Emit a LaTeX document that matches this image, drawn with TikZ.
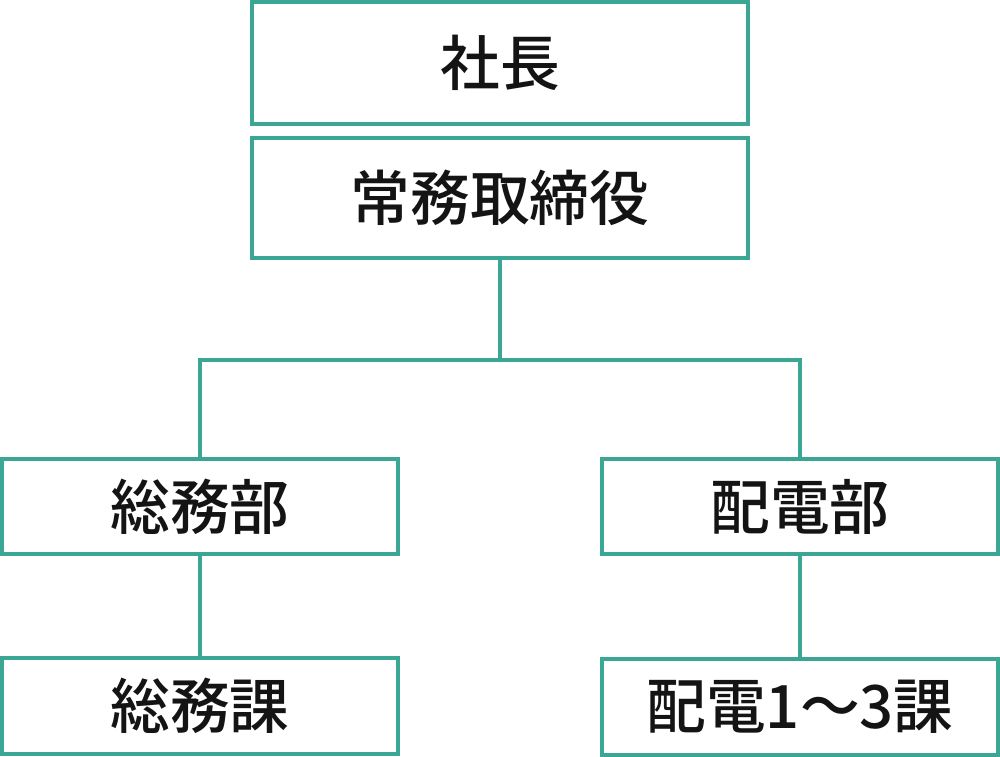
\documentclass[tikz,border=0pt]{standalone}
\usepackage{fontspec}
\newfontfamily\cjk{Noto Sans CJK JP Medium}
\usetikzlibrary{positioning}
\definecolor{orgline}{RGB}{59,166,148}

\begin{document}
\begin{tikzpicture}[line width=2.2pt]
  \tikzset{post/.style={draw=orgline,minimum width=7.92cm,minimum height=1.9cm,inner sep=0pt,
      text=black!92,font=\cjk\fontsize{34}{40}\selectfont}}
  \useasboundingbox (0,0) rectangle (20,-15.12);
  \node[post,minimum width=9.92cm,minimum height=2.44cm] (pres) at (10,-1.26) {社長};
  \node[post,minimum width=9.92cm,minimum height=2.4cm] (exec) at (10,-3.96) {常務取締役};
  \node[post] (gendept) at (4,-10.13) {総務部};
  \node[post] (powdept) at (16,-10.13) {配電部};
  \node[post,minimum height=1.92cm] (gensec) at (4,-14.12) {総務課};
  \node[post,minimum height=1.92cm] (powsec) at (16,-14.14) {配電1〜3課};
  \coordinate (split) at (10,-7.2);

  \draw[orgline] (exec.south) -- (split);
  \draw[orgline] (gendept.north) |- (split) -| (powdept.north);
  \draw[orgline] (gendept) -- (gensec);
  \draw[orgline] (powdept) -- (powsec);
\end{tikzpicture}
\end{document}
